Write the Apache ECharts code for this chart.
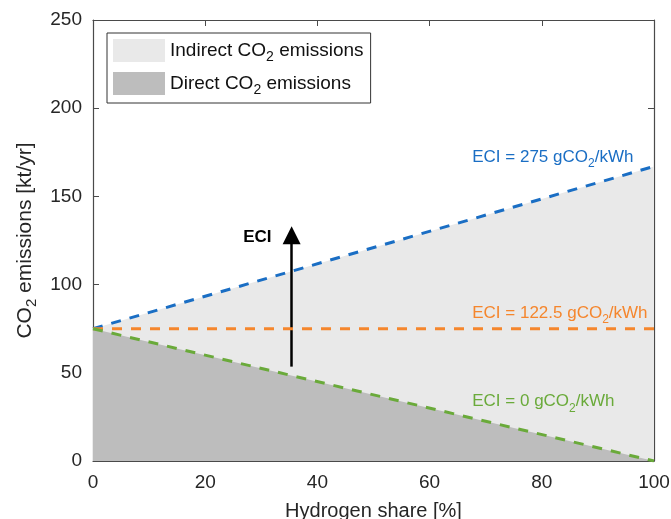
<!DOCTYPE html>
<html><head><meta charset="utf-8">
<script src="https://cdn.jsdelivr.net/npm/echarts@6/dist/echarts.min.js"></script>
<style>html,body{margin:0;padding:0;background:#fff}#c{width:671px;height:519px}</style>
</head><body><div id="c"></div>
<script>
const hydrogenShare = [0, 100];
const eci275 = [75, 167];
const eci1225 = [75, 75];
const eci0 = [75, 0];
const xTicks = [0, 20, 40, 60, 80, 100];
const yTicks = [0, 50, 100, 150, 200, 250];
const arrowFrom = [35.4, 53.5];
const arrowTo = [35.4, 128];

const pairs = ys => hydrogenShare.map((x, i) => [x, ys[i]]);
const FONT = 'Liberation Sans';
const BLUE = '#1a6ec4', ORANGE = '#f5862d', GREEN = '#6aaa3a';
const AX = '#4a4a4a';
const DASH = [10, 9];
function colored(size, color) {
  return {
    n: {fontFamily: FONT, fontSize: size, color: color, lineHeight: size + 8, verticalAlign: 'bottom', padding: [0,0,4,0]},
    s: {fontFamily: FONT, fontSize: Math.round(size * 0.72), color: color, lineHeight: size + 8, verticalAlign: 'bottom'}
  };
}
const chart = echarts.init(document.getElementById('c'));
function tick() { return {show: true, inside: true, length: 6, lineStyle: {color: AX, width: 1}}; }
function line() { return {show: true, onZero: false, lineStyle: {color: AX, width: 1.2}}; }
chart.setOption({
  animation: false,
  backgroundColor: '#fff',
  grid: {left: 93, right: 17, top: 20, bottom: 58, containLabel: false, outerBoundsMode: 'none'},
  legend: {
    orient: 'vertical', left: 107, top: 33,
    icon: 'rect', itemWidth: 52, itemHeight: 23, itemGap: 8,
    padding: [6, 7, 6, 6],
    borderColor: '#333', borderWidth: 1, backgroundColor: '#fff',
    data: ['Indirect CO2 emissions', 'Direct CO2 emissions'],
    formatter: name => name.startsWith('Indirect') ? '{n|Indirect CO}{s|2}{n| emissions}' : '{n|Direct CO}{s|2}{n| emissions}',
    textStyle: {color: '#111', rich: colored(19, '#111')}
  },
  xAxis: [
    {type: 'value', min: 0, max: 100, interval: 20,
      name: 'Hydrogen share [%]', nameLocation: 'middle', nameGap: 40,
      nameTextStyle: {fontFamily: FONT, fontSize: 20, color: '#262626'},
      axisLine: line(), axisTick: tick(), splitLine: {show: false},
      axisLabel: {fontFamily: FONT, fontSize: 19, color: '#262626', margin: 12}},
    {type: 'value', min: 0, max: 100, interval: 20, position: 'top',
      axisLine: line(), axisTick: tick(), splitLine: {show: false},
      axisLabel: {show: false}}
  ],
  yAxis: [
    {type: 'value', min: 0, max: 250, interval: 50,
      name: '{n|CO}{s|2}{n| emissions [kt/yr]}', nameLocation: 'middle', nameGap: 52,
      nameTextStyle: {color: '#262626', rich: colored(21, '#262626')},
      axisLine: line(), axisTick: tick(), splitLine: {show: false},
      axisLabel: {fontFamily: FONT, fontSize: 19, color: '#262626', margin: 11}},
    {type: 'value', min: 0, max: 250, interval: 50, position: 'right',
      axisLine: line(), axisTick: tick(), splitLine: {show: false},
      axisLabel: {show: false}}
  ],
  series: [
    {name: 'Indirect CO2 emissions', type: 'line', data: pairs(eci275), symbol: 'none', z: 1,
      itemStyle: {color: '#e9e9e9'}, lineStyle: {width: 0}, areaStyle: {color: '#e9e9e9', opacity: 1}},
    {name: 'Direct CO2 emissions', type: 'line', data: pairs(eci0), symbol: 'none', z: 2,
      itemStyle: {color: '#bdbdbd'}, lineStyle: {width: 0}, areaStyle: {color: '#bdbdbd', opacity: 1}},
    {name: 'ECI = 275', type: 'line', data: pairs(eci275), symbol: 'none', z: 5,
      lineStyle: {color: BLUE, width: 3, type: DASH},
      markPoint: {symbol: 'circle', symbolSize: 0, silent: true, data: [{coord: [67.6, 172.3],
        label: {show: true, position: 'right', distance: 0, formatter: '{n|ECI = 275 gCO}{s|2}{n|/kWh}', rich: colored(17, BLUE)}}]}},
    {name: 'ECI = 122.5', type: 'line', data: pairs(eci1225), symbol: 'none', z: 5,
      lineStyle: {color: ORANGE, width: 3, type: DASH},
      markPoint: {symbol: 'circle', symbolSize: 0, silent: true, data: [
        {coord: [67.6, 84], label: {show: true, position: 'right', distance: 0, formatter: '{n|ECI = 122.5 gCO}{s|2}{n|/kWh}', rich: colored(17, ORANGE)}},
        {coord: [29.3, 127], label: {show: true, position: 'inside', formatter: 'ECI', fontFamily: FONT, fontSize: 17, fontWeight: 'bold', color: '#000'}}
      ]},
      markLine: {silent: true, symbol: ['none', 'triangle'], symbolSize: [18, 18],
        lineStyle: {color: '#000', width: 2.5, type: 'solid'}, label: {show: false},
        data: [[{coord: arrowFrom}, {coord: arrowTo}]]}},
    {name: 'ECI = 0', type: 'line', data: pairs(eci0), symbol: 'none', z: 5,
      lineStyle: {color: GREEN, width: 3, type: DASH},
      markPoint: {symbol: 'circle', symbolSize: 0, silent: true, data: [{coord: [67.6, 33.6],
        label: {show: true, position: 'right', distance: 0, formatter: '{n|ECI = 0 gCO}{s|2}{n|/kWh}', rich: colored(17, GREEN)}}]}}
  ]
});
</script></body></html>
